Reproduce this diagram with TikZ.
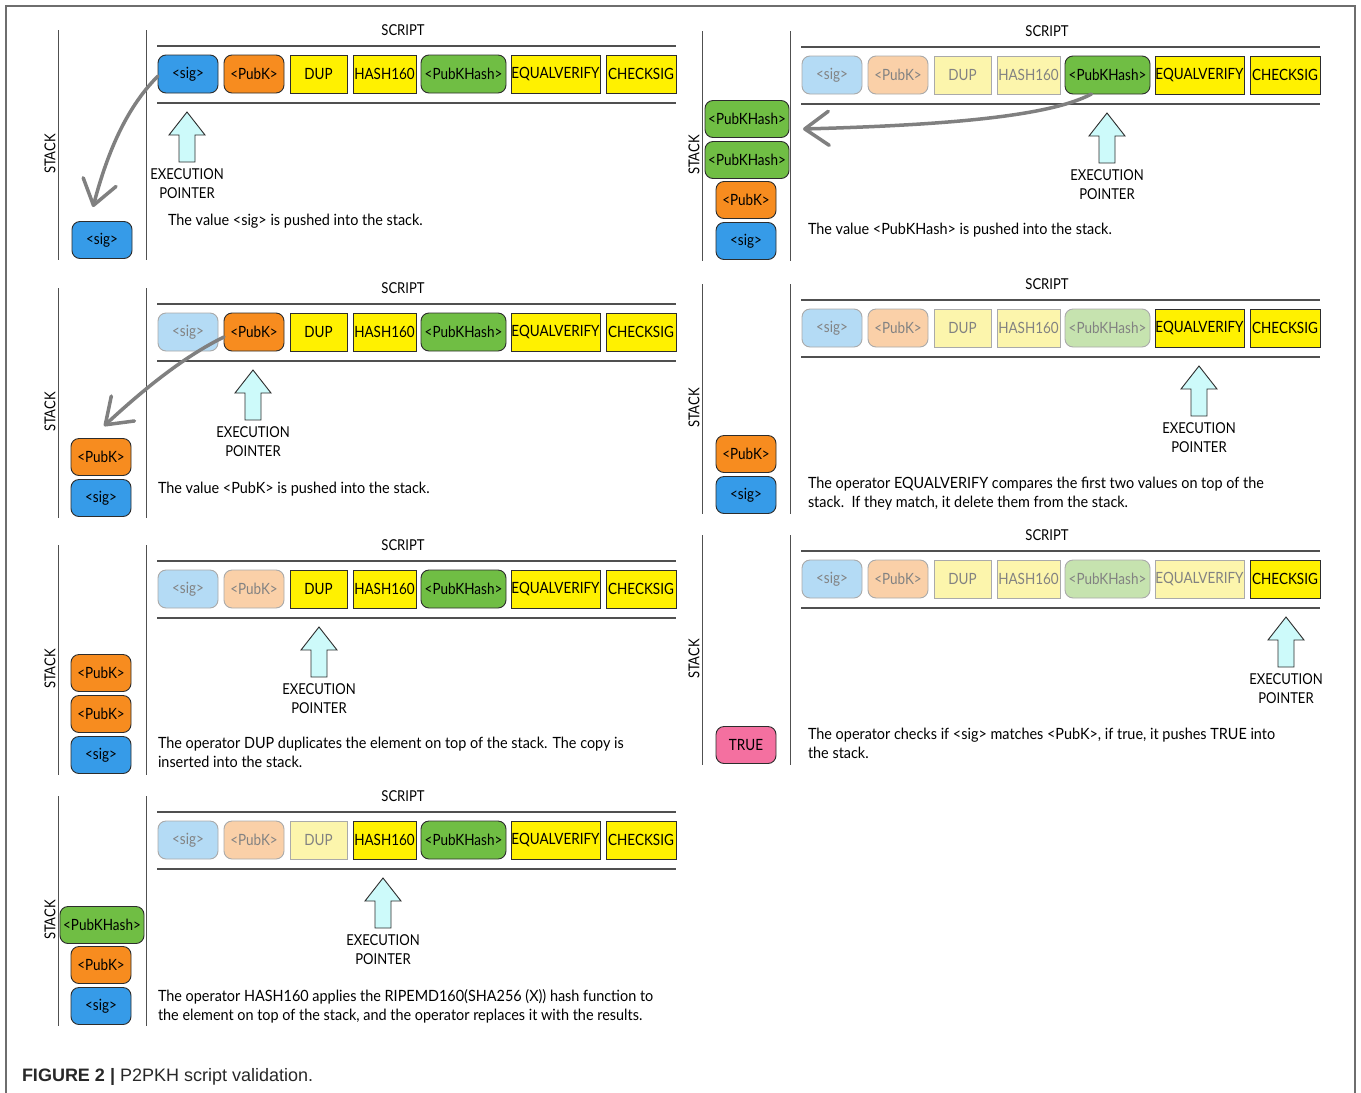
\documentclass[tikz,border=0pt]{standalone}
\usepackage{fontspec}
\setmainfont{Lato}[FakeStretch=0.87]
\newfontfamily\descfont{Lato}[FakeStretch=0.93]
\newfontfamily\capfont{Liberation Sans}
\usetikzlibrary{arrows.meta}
\definecolor{cSig}{RGB}{54,155,232}
\definecolor{cSigF}{RGB}{180,219,245}
\definecolor{cPk}{RGB}{247,140,31}
\definecolor{cPkF}{RGB}{250,208,168}
\definecolor{cOp}{RGB}{255,241,0}
\definecolor{cOpF}{RGB}{252,245,172}
\definecolor{cHs}{RGB}{112,190,68}
\definecolor{cHsF}{RGB}{198,227,175}
\definecolor{cTrue}{RGB}{244,112,160}
\definecolor{cEdge}{RGB}{45,45,45}
\definecolor{cEdgeF}{RGB}{170,170,170}
\definecolor{cFadeText}{RGB}{130,130,130}
\definecolor{cPtr}{RGB}{205,250,250}
\definecolor{cArrow}{RGB}{128,128,128}
\definecolor{cRule}{RGB}{80,80,80}
\definecolor{cFrame}{RGB}{110,110,110}
\tikzset{
  every node/.style={inner sep=0pt, outer sep=0pt},
  basebox/.style={draw=cEdge, line width=0.9pt, minimum height=38, font=\fontsize{15.5}{18}\selectfont, text=black},
  fadebox/.style={basebox, draw=cEdgeF, text=cFadeText},
  sig/.style={basebox, rounded corners=8pt, fill=cSig},
  sigF/.style={fadebox, rounded corners=8pt, fill=cSigF},
  pk/.style={basebox, rounded corners=8pt, fill=cPk},
  pkF/.style={fadebox, rounded corners=8pt, fill=cPkF},
  hs/.style={basebox, rounded corners=8pt, fill=cHs},
  hsF/.style={fadebox, rounded corners=8pt, fill=cHsF},
  op/.style={basebox, fill=cOp},
  opF/.style={fadebox, fill=cOpF},
  trueBox/.style={basebox, rounded corners=8pt, fill=cTrue},
  stk/.style={minimum width=60, minimum height=37},
  stkwide/.style={minimum width=84, minimum height=37},
  lbl/.style={font=\fontsize{15}{19}\selectfont, text=black},
  desc/.style={font=\descfont\fontsize{15.5}{19}\selectfont, text=black, align=left, anchor=north west},
  rule/.style={draw=cRule, line width=1.3pt},
  vline/.style={draw=cRule, line width=1pt},
  ptr/.style={draw=cEdge, line width=0.9pt, fill=cPtr, line join=miter},
  push/.style={draw=cArrow, line width=3.5pt, line cap=round, -{Straight Barb[length=24pt,width=34pt,round]}},
  frame/.style={draw=cFrame, line width=1.5pt}
}
% #1 prefix, #2 x0, #3 yc, #4 active index, #5 pointer x
\newcommand\scriptpanel[5]{%
  \node[lbl] (#1-title) at (#2+245,#3-44) {SCRIPT};
  \draw[rule] (#2-1,#3-28) -- (#2+518,#3-28);
  \draw[rule] (#2-1,#3+29) -- (#2+518,#3+29);
  \foreach \i/\dx/\w/\k/\t in {1/0/60/sig/{<sig>},2/66/60/pk/{<PubK>},3/132/57/op/{DUP},4/195/63/op/{HASH160},5/263/85/hs/{<PubKHash>},6/353/89/op/{EQUALVERIFY},7/448/70/op/{CHECKSIG}}{%
    \ifnum\i<#4 \edef\st{\k F}\else\edef\st{\k}\fi
    \node[\st, minimum width=\w] (#1-\i) at (#2+\dx+\w/2,#3) {\t};
  }
  \draw[ptr] (#5,#3+38) -- (#5+18,#3+61) -- (#5+8,#3+61) -- (#5+8,#3+88) -- (#5-8,#3+88) -- (#5-8,#3+61) -- (#5-18,#3+61) -- cycle;
  \node[lbl, align=center] (#1-ptrtxt) at (#5,#3+110) {EXECUTION\\POINTER};
  \draw[vline] (#2-100,#3-44) -- (#2-100,#3+186);
  \draw[vline] (#2-12,#3-44) -- (#2-12,#3+186);
  \node[lbl, rotate=90] (#1-stack) at (#2-108,#3+80) {STACK};
}
\begin{document}
\begin{tikzpicture}[x=1pt,y=-1pt]
\useasboundingbox (0,0) rectangle (1361,1093);
\fill[white] (0,0) rectangle (1361,1093);
\draw[frame] (6,1093) -- (6,6) -- (1355,6) -- (1355,1093);

% Panel 1
\scriptpanel{p1}{158}{74}{1}{187}
\node[sig, stk] (p1-s1) at (102,240) {<sig>};
\node[desc] (p1-desc) at (168,214) {The value <sig> is pushed into the stack.};
\coordinate (p1-tip) at (93,207);
\draw[push] ([yshift=-2pt]p1-1.west) .. controls (124,110) and (106,158) .. (p1-tip);

% Panel 2
\scriptpanel{p2}{802}{75}{5}{1107}
\node[hs, stkwide] (p2-s4) at (747,119) {<PubKHash>};
\node[hs, stkwide] (p2-s3) at (747,160) {<PubKHash>};
\node[pk, stk] (p2-s2) at (746,200) {<PubK>};
\node[sig, stk] (p2-s1) at (746,241) {<sig>};
\node[desc] (p2-desc) at (808,223) {The value <PubKHash> is pushed into the stack.};
\coordinate (p2-tip) at (803,129);
\draw[push] ([xshift=-16pt]p2-5.south) .. controls (1050,116) and (950,125) .. (p2-tip);

% Panel 3
\scriptpanel{p3}{158}{332}{2}{253}
\node[pk, stk] (p3-s2) at (101,457) {<PubK>};
\node[sig, stk] (p3-s1) at (101,498) {<sig>};
\node[desc] (p3-desc) at (158,482) {The value <PubK> is pushed into the stack.};
\coordinate (p3-tip) at (104,426);
\draw[push] ([yshift=-5pt]p3-2.west) .. controls (185,356) and (145,388) .. (p3-tip);

% Panel 4
\scriptpanel{p4}{802}{328}{6}{1199}
\node[pk, stk] (p4-s2) at (746,454) {<PubK>};
\node[sig, stk] (p4-s1) at (746,495) {<sig>};
\node[desc] (p4-desc) at (808,477) {The operator EQUALVERIFY compares the first two values on top of the\\stack.\ \ If they match, it delete them from the stack.};

% Panel 5
\scriptpanel{p5}{158}{589}{3}{319}
\node[pk, stk] (p5-s3) at (101,673) {<PubK>};
\node[pk, stk] (p5-s2) at (101,714) {<PubK>};
\node[sig, stk] (p5-s1) at (101,755) {<sig>};
\node[desc] (p5-desc) at (158,737) {The operator DUP duplicates the element on top of the stack. The copy is\\inserted into the stack.};

% Panel 6
\scriptpanel{p6}{802}{579}{7}{1286}
\node[trueBox, stk] (p6-s1) at (746,745) {TRUE};
\node[desc] (p6-desc) at (808,728) {The operator checks if <sig> matches <PubK>, if true, it pushes TRUE into\\the stack.};

% Panel 7
\scriptpanel{p7}{158}{840}{4}{383}
\node[hs, stkwide] (p7-s3) at (102,925) {<PubKHash>};
\node[pk, stk] (p7-s2) at (101,965) {<PubK>};
\node[sig, stk] (p7-s1) at (101,1006) {<sig>};
\node[desc] (p7-desc) at (158,989) {The operator HASH160 applies the RIPEMD160(SHA256 (X)) hash function to\\the element on top of the stack, and the operator replaces it with the results.};

% Caption
\node[anchor=base west, font=\capfont\fontsize{18}{22}\selectfont, text={rgb,255:red,40;green,40;blue,40}] (caption) at (22,1081) {\textbf{FIGURE 2 |} P2PKH script validation.};
\end{tikzpicture}
\end{document}
